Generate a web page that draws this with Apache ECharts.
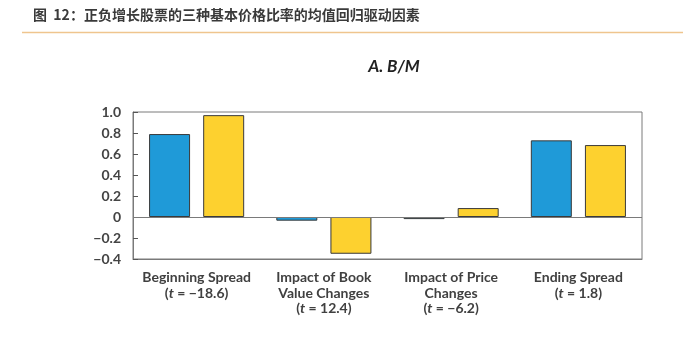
<!DOCTYPE html>
<html><head><meta charset="utf-8">
<script src="https://cdn.jsdelivr.net/npm/echarts@6/dist/echarts.min.js"></script>
<style>html,body{margin:0;padding:0;background:#fff}#c{width:699px;height:357px}</style>
</head><body><div id="c"></div>
<script>
const categories = ['Beginning Spread', 'Impact of Book\nValue Changes', 'Impact of Price\nChanges', 'Ending Spread'];
const tStats = ['−18.6', '12.4', '−6.2', '1.8'];
const seriesA = [0.79, -0.035, -0.02, 0.73];
const seriesB = [0.97, -0.35, 0.085, 0.685];
const yTicks = [-0.4, -0.2, 0, 0.2, 0.4, 0.6, 0.8, 1.0];
const headerText = '图  12：正负增长股票的三种基本价格比率的均值回归驱动因素';
const panelTitle = 'A. B/M';

const chart = echarts.init(document.getElementById('c'));
const labelFont = 'Lato, "Noto Sans", sans-serif';
chart.setOption({
  animation: false,
  graphic: [
    { type: 'text', left: 33, top: 8, style: { text: headerText, font: 'bold 14px "Noto Sans CJK SC", sans-serif', fill: '#3a3a3a' } },
    { type: 'line', shape: { x1: 22, y1: 32.5, x2: 683, y2: 32.5 }, style: { stroke: '#efc58e', lineWidth: 1.5 } }
  ],
  title: {
    text: panelTitle, left: 389, top: 53, textAlign: 'center',
    textStyle: { fontFamily: labelFont, fontStyle: 'italic', fontWeight: 'bold', fontSize: 17, color: '#222' }
  },
  grid: { left: 133, right: 57, top: 112, bottom: 98, show: true, borderColor: '#7a7a7a', borderWidth: 1 },
  xAxis: {
    type: 'category', data: categories,
    axisLine: { onZero: false, lineStyle: { color: '#7a7a7a' } },
    axisTick: { inside: true, alignWithLabel: true, length: 5, lineStyle: { color: '#555' } },
    axisLabel: {
      margin: 11, interval: 0,
      formatter: (v, i) => v + '\n({i|t} = ' + tStats[i] + ')',
      fontFamily: labelFont, fontWeight: 'bold', fontSize: 14, color: '#404040', lineHeight: 15.5,
      rich: { i: { fontStyle: 'italic', fontWeight: 'bold', fontFamily: labelFont, fontSize: 14, color: '#404040', lineHeight: 15.5 } }
    }
  },
  yAxis: {
    type: 'value', min: -0.4, max: 1.0, interval: 0.2,
    axisLine: { show: true, lineStyle: { color: '#7a7a7a' } },
    axisTick: { show: true, inside: true, length: 5, lineStyle: { color: '#555' } },
    splitLine: { show: false },
    axisLabel: {
      margin: 12, fontFamily: labelFont, fontWeight: 'bold', fontSize: 14, color: '#444',
      formatter: v => {
        const r = Math.round(v * 10) / 10;
        if (r === 0) return '0';
        const s = Math.abs(r).toFixed(1);
        return r < 0 ? '−' + s : s;
      }
    }
  },
  series: [
    {
      type: 'bar', data: seriesA, barWidth: 41, barGap: '32%',
      itemStyle: { color: '#1f9ad8', borderColor: '#3a3a3a', borderWidth: 1 },
      markLine: { silent: true, symbol: 'none', label: { show: false }, lineStyle: { color: '#7a7a7a', type: 'solid', width: 1 }, data: [{ yAxis: 0 }] }
    },
    {
      type: 'bar', data: seriesB, barWidth: 41,
      itemStyle: { color: '#fdd12f', borderColor: '#3a3a3a', borderWidth: 1 }
    }
  ]
});
</script></body></html>
